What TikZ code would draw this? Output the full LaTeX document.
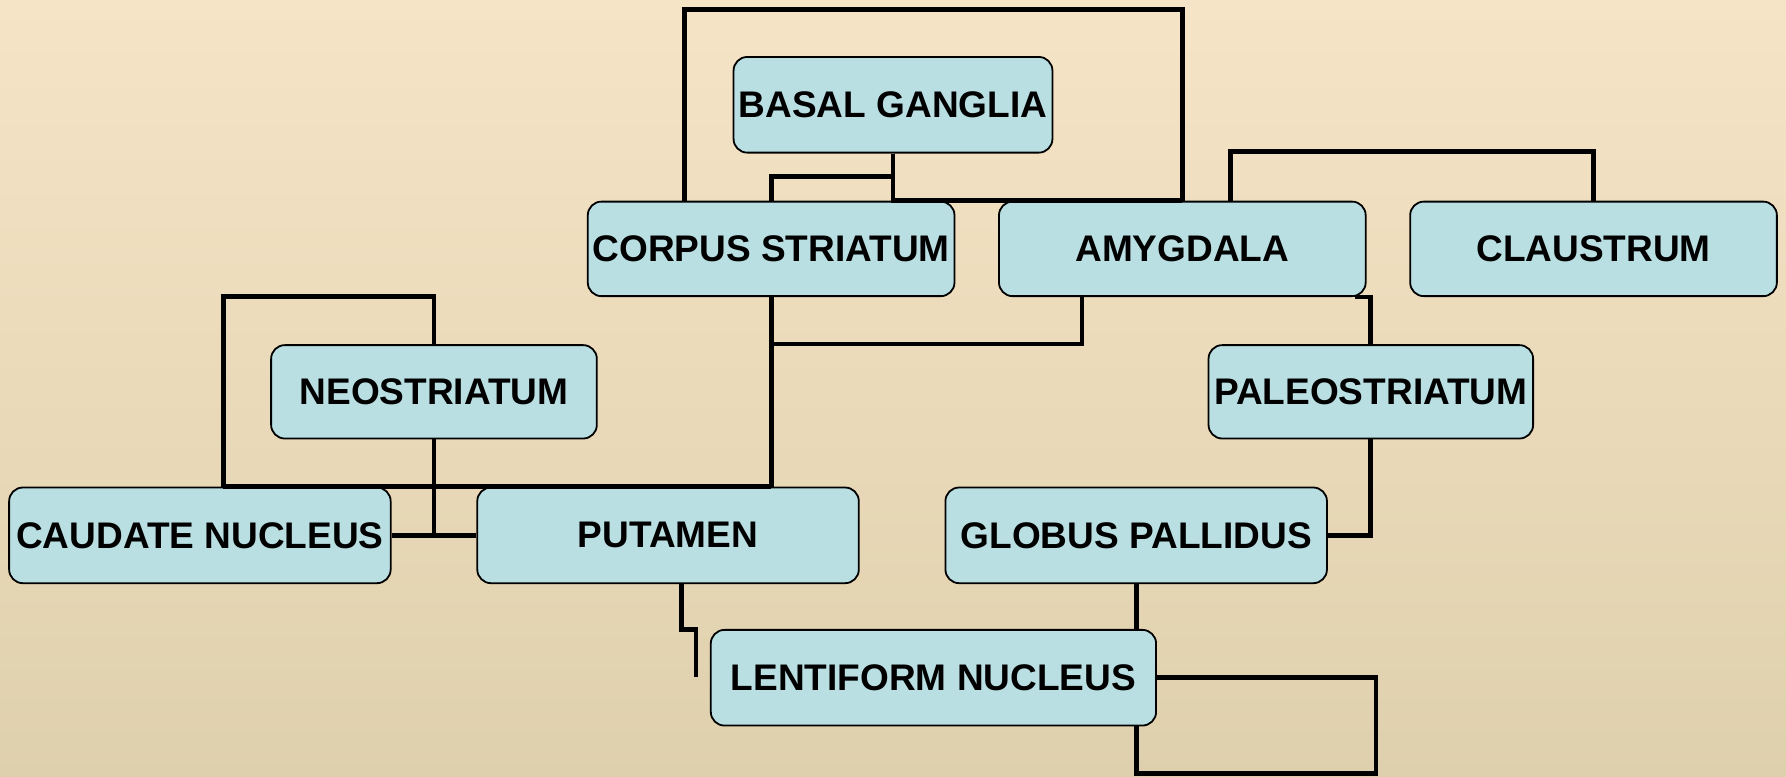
\documentclass[tikz,border=0pt]{standalone}
\usepackage{fontspec}
\setmainfont{Liberation Sans}
\definecolor{bgtop}{HTML}{F5E4C6}
\definecolor{bgbot}{HTML}{DFD0AD}
\definecolor{boxfill}{HTML}{B9DFE3}
\tikzset{
  box/.style={draw=black, line width=0.9pt, fill=boxfill, rounded corners=0.24cm,
    inner sep=0pt, align=center, font=\fontsize{18.5}{20}\selectfont\bfseries},
  conn/.style={draw=black, line width=2.4pt}
}
\begin{document}
\begin{tikzpicture}[x=0.02cm, y=-0.02cm]
\shade[top color=bgtop, bottom color=bgbot] (0,0) rectangle (1568,682);
\useasboundingbox (0,0) rectangle (1568,682);

\node[box, minimum width=5.6cm,  minimum height=1.68cm] (bg)    at (784,92)     {BASAL GANGLIA};
\node[box, minimum width=6.44cm, minimum height=1.66cm] (cs)    at (677,218.5)  {CORPUS STRIATUM};
\node[box, minimum width=6.44cm, minimum height=1.66cm] (am)    at (1038,218.5) {AMYGDALA};
\node[box, minimum width=6.44cm, minimum height=1.66cm] (cl)    at (1399,218.5) {CLAUSTRUM};
\node[box, minimum width=5.72cm, minimum height=1.64cm] (neo)   at (381,344)    {NEOSTRIATUM};
\node[box, minimum width=5.7cm,  minimum height=1.64cm] (paleo) at (1203.5,344) {PALEOSTRIATUM};
\node[box, minimum width=6.7cm,  minimum height=1.68cm] (cau)   at (175.5,470)  {CAUDATE NUCLEUS};
\node[box, minimum width=6.7cm,  minimum height=1.68cm] (put)   at (586.5,470)  {PUTAMEN};
\node[box, minimum width=6.7cm,  minimum height=1.68cm] (gp)    at (997.5,470)  {GLOBUS PALLIDUS};
\node[box, minimum width=7.82cm, minimum height=1.68cm] (ln)    at (819.5,595)  {LENTIFORM NUCLEUS};

\coordinate (t1) at (601,8);
\coordinate (t2) at (1038,8);
\coordinate (j1) at (0,155);
\coordinate (t3) at (1080,133);
\coordinate (j2) at (950,302);
\coordinate (t4) at (196,260);
\coordinate (p1) at (598,553);
\coordinate (p2) at (611,594);
\coordinate (l1) at (1208,679);

% top bracket
\draw[conn] (cs.north -| t1) -- (t1) -- (t2) -- (am.north -| t2);
\draw[conn] (bg.south) -- (bg.south |- cs.north) -- (am.north -| t2);
\draw[conn] (bg.south |- j1) -| (cs.north);
% amygdala - claustrum
\draw[conn] (am.north -| t3) |- (cl.north |- t3) -- (cl.north);
% corpus striatum - putamen / amygdala
\draw[conn] (cs.south) -- (cs.south |- put.north);
\draw[conn] (cs.south |- j2) -- (j2) -- (am.south -| j2);
% amygdala - paleostriatum - globus pallidus
\draw[conn] ([xshift=-0.2cm]am.south east) -| (paleo.north);
\draw[conn] (paleo.south) |- (gp.east);
% neostriatum
\draw[conn] (neo.north) |- (t4) -- (cau.north -| t4);
\draw[conn] (cau.north -| t4) -- (cs.south |- put.north);
\draw[conn] (neo.south) -- (neo.south |- cau.east);
\draw[conn] (cau.east) -- (put.west);
% putamen - lentiform
\draw[conn] (put.south -| p1) -- (p1) -| (p2);
% globus pallidus - lentiform
\draw[conn] (gp.south) -- (gp.south |- ln.north);
\draw[conn] (ln.east) -| (l1) -| (gp.south |- ln.south);
\end{tikzpicture}
\end{document}
